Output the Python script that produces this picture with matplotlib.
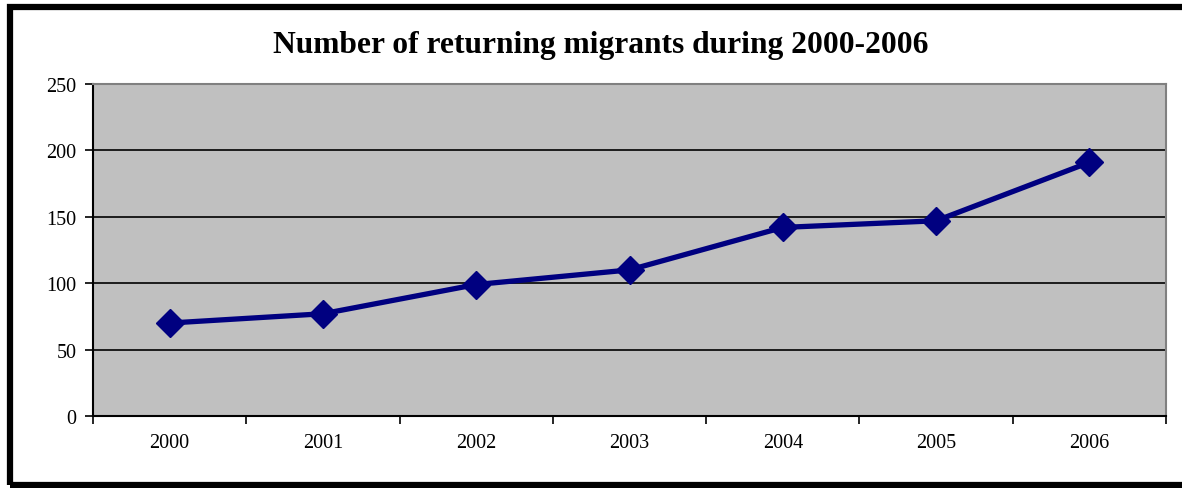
import matplotlib.pyplot as plt
from matplotlib.patches import Rectangle

# data
years = ["2000", "2001", "2002", "2003", "2004", "2005", "2006"]
migrants = [70, 77, 99, 110, 142, 147, 191]

plt.rcParams['font.family'] = ['Liberation Serif', 'DejaVu Serif']

fig = plt.figure(figsize=(11.82, 4.89), dpi=100)
W, H = 1182, 489
ax = fig.add_axes([93 / W, 1 - 417 / H, (1166 - 93) / W, (417 - 85) / H])

ax.set_facecolor("#c0c0c0")
x = list(range(len(years)))
ax.plot(x, migrants, color="#000080", linewidth=3.8, marker="D",
        markersize=14.5, zorder=3)

ax.set_xlim(-0.5, len(years) - 0.5)
ax.set_ylim(0, 250)
ax.set_yticks(range(0, 251, 50))
ax.yaxis.grid(True, color="black", linewidth=1.2)
ax.set_axisbelow(True)

# ticks between categories, labels centred on categories
ax.set_xticks([i - 0.5 for i in range(len(years) + 1)])
ax.set_xticklabels([])
ax.set_xticks(x, minor=True)
ax.set_xticklabels(years, minor=True)
ax.tick_params(axis="x", which="minor", length=0, pad=12, labelsize=14.5)
ax.tick_params(axis="x", which="major", length=6, width=1.2, direction="out")
ax.tick_params(axis="y", length=6, width=1.2, pad=6, labelsize=14.5)

ax.spines["left"].set_color("black")
ax.spines["bottom"].set_color("black")
ax.spines["left"].set_linewidth(1.5)
ax.spines["bottom"].set_linewidth(1.5)
ax.spines["top"].set_color("#808080")
ax.spines["right"].set_color("#808080")
ax.spines["top"].set_linewidth(1.5)
ax.spines["right"].set_linewidth(1.5)

fig.text(601 / W, 1 - 46 / H, "Number of returning migrants during 2000-2006",
         ha="center", va="center", fontsize=22.7, fontweight="bold")

# outer frame, cut off on the right like the original
fig.patches.append(Rectangle((10 / W, 1 - 486 / H), 1.1, (486 - 8) / H,
                             transform=fig.transFigure, fill=False,
                             edgecolor="black", linewidth=4.5))

fig.savefig("out.png", dpi=100)
